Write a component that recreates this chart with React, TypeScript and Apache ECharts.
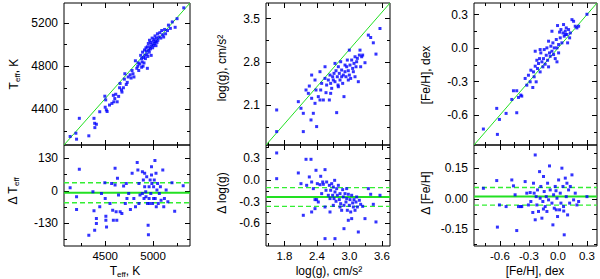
import React, { useEffect, useRef } from 'react';
import * as echarts from 'echarts';

const FONT = '"Liberation Sans", Arial, Helvetica, sans-serif';
const BLUE = '#0000ff';
const GREEN = '#22e022';

// ---------- data ----------
const teffTop: number[][] = [
  [4134,4149],[4194,4179],[4201,4124],[4230,4317],[4329,4155],[4383,4317],[4390,4271],[4392,4231],[4408,4262],[4443,4378],
  [4496,4522],[4505,4488],[4500,4420],[4512,4395],[4520,4380],[4545,4440],[4570,4455],[4585,4530],[4590,4470],[4600,4500],
  [4610,4540],[4625,4470],[4640,4520],[4650,4600],[4655,4640],[4670,4580],[4675,4560],[4690,4600],[4700,4680],[4705,4730],
  [4720,4630],[4730,4650],[4740,4700],[4760,4720],[4770,4690],[4780,4760],[4790,4730],[4800,4700],[4815,4850],[4830,4780],
  [4840,4800],[4850,4760],[4860,4820],[4870,4900],[4880,4870],[4885,4840],[4890,4930],[4895,4800],[4900,4880],[4905,4830],
  [4910,4950],[4915,4900],[4920,4870],[4925,4970],[4930,4940],[4935,4910],[4940,4980],[4945,4890],[4950,5010],[4955,4950],
  [4960,4930],[4962,5040],[4968,4980],[4972,4960],[4975,5020],[4980,4900],[4985,5000],[4990,5060],[4995,4970],[5000,5030],
  [5005,4990],[5010,5050],[5015,5010],[5020,5080],[5025,5030],[5030,4990],[5035,5060],[5040,5020],[5045,5100],[5050,5040],
  [5060,5070],[5070,5110],[5080,5060],[5090,5130],[5100,5090],[5110,5070],[5120,5140],[5130,5100],[5150,5130],[5160,5180],
  [5180,5150],[5200,5210],[5230,5160],[5250,5240],[5320,5340],[4940,4780],[4880,4790],[4845,4830]
];
const teffRes: number[][] = [
  [4134,12],[4201,-24],[4201,-75],[4230,86],[4329,-178],[4372,-4],[4383,-80],[4390,-158],[4408,-131],[4408,-111],
  [4443,-64],[4461,-11],[4496,32],[4500,-31],[4507,-102],[4507,-118],[4514,-145],[4550,-51],[4567,29],[4578,-78],
  [4585,-118],[4603,90],[4603,23],[4614,-84],[4621,-118],[4628,50],[4639,-17],[4656,-84],[4674,-91],[4692,19],
  [4710,-51],[4720,29],[4727,-31],[4745,-11],[4763,-75],[4781,70],[4799,-31],[4816,-64],[4834,113],[4841,83],
  [4852,29],[4852,-51],[4863,-17],[4888,76],[4898,43],[4905,-31],[4912,70],[4923,-4],[4933,56],[4941,-51],
  [4948,-138],[4951,-176],[4958,16],[4958,-31],[4969,43],[4976,-11],[4983,96],[4987,29],[4994,-51],[5005,16],
  [5012,43],[5019,121],[5022,-31],[5030,70],[5040,3],[5047,29],[5065,-11],[5083,-38],[5101,83],[5111,-64],
  [5118,-31],[5136,3],[5154,-44],[5197,32],[5225,-82],[5314,20],[4888,-11],[4912,16],[4926,-24],[4962,-51],
  [4983,63],[5005,-31],[5033,-64],[5054,-51],[5076,16]
];
const loggTop: number[][] = [
  [1.657,2.025],[1.657,1.676],[2.057,2.159],[2.106,2.052],[2.149,1.971],[2.149,1.676],[2.199,2.347],[2.242,2.293],[2.260,2.411],[2.291,1.864],
  [2.303,2.213],[2.303,2.588],[2.334,1.971],[2.365,2.132],[2.365,2.508],[2.383,2.347],[2.395,1.757],[2.426,2.240],[2.457,2.642],[2.470,2.347],
  [2.488,2.454],[2.519,2.186],[2.550,2.722],[2.550,2.534],[2.568,2.304],[2.580,2.427],[2.611,2.508],[2.630,2.186],[2.642,2.588],[2.654,2.454],
  [2.673,2.374],[2.691,2.561],[2.703,2.508],[2.716,2.615],[2.734,2.481],[2.734,2.776],[2.753,2.658],[2.765,1.982],[2.777,2.561],[2.790,2.427],
  [2.796,2.722],[2.814,2.615],[2.827,2.508],[2.839,2.803],[2.857,2.669],[2.876,2.454],[2.888,2.588],[2.900,2.240],[2.919,2.749],[2.919,2.642],
  [2.937,2.561],[2.950,2.722],[2.962,2.830],[2.980,2.658],[2.999,2.990],[2.999,2.588],[3.011,2.749],[3.024,2.534],[3.042,2.830],[3.060,2.695],
  [3.073,2.642],[3.085,2.776],[3.104,2.883],[3.104,2.561],[3.122,2.722],[3.134,2.803],[3.147,2.857],[3.165,2.481],[3.184,2.910],[3.196,2.990],
  [3.208,2.722],[3.227,2.883],[3.245,2.910],[3.288,2.787],[3.350,3.232],[3.393,3.194],[3.442,3.108],[3.491,2.926],[3.565,3.339],[2.457,2.186],
  [2.654,2.293],[2.796,2.400],[2.857,2.561],[2.980,2.508]
];
const loggRes: number[][] = [
  [1.657,0.374],[1.657,0.018],[2.057,0.097],[2.106,-0.051],[2.149,-0.489],[2.199,0.286],[2.211,-0.074],[2.260,0.042],[2.291,0.286],[2.303,-0.028],
  [2.303,-0.443],[2.334,-0.120],[2.365,-0.272],[2.365,-0.397],[2.383,0.134],[2.395,-0.272],[2.408,-0.051],[2.426,-0.305],[2.457,-0.065],[2.470,0.051],
  [2.488,-0.189],[2.507,-0.028],[2.519,-0.060],[2.550,0.143],[2.550,-0.374],[2.550,-0.812],[2.568,-0.143],[2.580,-0.028],[2.611,-0.212],[2.630,-0.074],
  [2.642,-0.443],[2.654,-0.143],[2.673,-0.051],[2.691,-0.212],[2.703,-0.097],[2.716,-0.258],[2.728,-0.005],[2.734,-0.166],[2.734,-0.812],[2.753,-0.295],
  [2.765,-0.120],[2.777,-0.212],[2.796,-0.074],[2.814,-0.272],[2.827,-0.189],[2.839,-0.328],[2.857,-0.420],[2.876,-0.134],[2.888,-0.235],[2.900,-0.351],
  [2.900,-0.674],[2.919,-0.189],[2.937,-0.305],[2.950,-0.258],[2.962,-0.420],[2.980,-0.198],[2.980,-0.558],[2.999,-0.351],[3.011,-0.272],[3.024,-0.443],
  [3.042,-0.212],[3.060,-0.318],[3.073,-0.374],[3.085,-0.272],[3.104,-0.420],[3.122,-0.305],[3.134,-0.235],[3.147,-0.374],[3.165,-0.720],[3.184,-0.281],
  [3.208,-0.337],[3.245,-0.365],[3.288,-0.535],[3.350,-0.120],[3.393,-0.198],[3.442,-0.337],[3.491,-0.581],[3.565,-0.212],[2.642,-0.258],[2.827,-0.374],
  [2.950,-0.120],[3.042,-0.535],[2.703,-0.351]
];
const fehTop: number[][] = [
  [-0.771,-0.725],[-0.633,-0.540],[-0.626,-0.773],[-0.605,-0.639],[-0.536,-0.585],[-0.477,-0.460],[-0.460,-0.382],[-0.426,-0.382],[-0.426,-0.579],[-0.408,-0.442],
  [-0.384,-0.421],[-0.374,-0.430],[-0.339,-0.272],[-0.322,-0.332],[-0.305,-0.243],[-0.287,-0.302],[-0.280,-0.198],[-0.260,-0.353],[-0.253,-0.213],[-0.246,-0.257],
  [-0.235,-0.028],[-0.235,-0.162],[-0.225,-0.302],[-0.218,-0.109],[-0.211,-0.183],[-0.201,-0.138],[-0.190,-0.094],[-0.184,-0.213],[-0.177,-0.043],[-0.166,-0.123],
  [-0.156,-0.168],[-0.149,-0.094],[-0.142,-0.013],[-0.132,-0.144],[-0.121,-0.064],[-0.114,0.002],[-0.107,-0.109],[-0.097,0.062],[-0.087,-0.043],[-0.080,-0.073],
  [-0.073,0.017],[-0.062,-0.028],[-0.052,0.047],[-0.045,-0.058],[-0.038,0.002],[-0.028,-0.094],[-0.017,0.077],[-0.010,0.002],[-0.010,-0.123],[-0.004,0.202],
  [0.007,0.032],[0.017,0.143],[0.024,0.092],[0.031,0.166],[0.041,0.047],[0.052,0.136],[0.058,0.211],[0.065,0.107],[0.076,0.151],[0.086,0.181],
  [0.093,0.122],[0.100,0.047],[0.110,0.166],[0.121,0.092],[0.128,0.136],[0.145,0.255],[0.162,0.240],[0.179,0.196],[0.196,0.181],[0.214,0.196],
  [0.300,0.303],[-0.062,0.151],[0.007,-0.043],[0.076,0.122],[-0.097,-0.168],[-0.184,-0.013]
];
const fehRes: number[][] = [
  [-0.771,0.052],[-0.633,0.090],[-0.626,-0.139],[-0.605,-0.030],[-0.536,-0.038],[-0.477,0.093],[-0.460,0.064],[-0.443,0.020],[-0.426,-0.156],[-0.408,-0.038],
  [-0.384,-0.038],[-0.374,-0.038],[-0.339,0.085],[-0.322,0.028],[-0.305,-0.030],[-0.287,0.031],[-0.280,-0.013],[-0.260,-0.067],[-0.253,0.077],[-0.246,0.028],
  [-0.235,0.216],[-0.235,-0.103],[-0.225,0.011],[-0.218,-0.030],[-0.211,0.044],[-0.201,-0.062],[-0.190,0.134],[-0.184,0.003],[-0.177,0.061],[-0.166,-0.095],
  [-0.156,-0.013],[-0.149,0.110],[-0.142,0.036],[-0.132,-0.038],[-0.121,0.011],[-0.114,-0.062],[-0.107,0.077],[-0.097,-0.005],[-0.087,0.162],[-0.080,0.044],
  [-0.062,-0.021],[-0.052,-0.128],[-0.045,0.020],[-0.038,-0.046],[-0.028,0.061],[-0.017,-0.054],[-0.010,0.003],[-0.004,-0.087],[0.007,0.093],[0.017,-0.054],
  [0.024,0.028],[0.031,-0.021],[0.041,0.151],[0.052,0.061],[0.058,-0.038],[0.065,-0.177],[0.076,0.102],[0.086,0.011],[0.093,0.077],[0.100,-0.079],
  [0.110,0.044],[0.121,-0.021],[0.128,0.061],[0.145,0.118],[0.162,-0.005],[0.179,0.028],[0.196,-0.030],[0.214,-0.013],[0.300,0.011],[-0.020,0.040],
  [0.060,-0.060],[-0.150,-0.050]
];

// residual mean and +/- sigma levels
const teffLevels = [-8, 32, -48];
const loggLevels = [-0.235, -0.106, -0.365];
const fehLevels = [0.011, 0.056, -0.031];

// axis ranges
const teffRange = [4070, 5385];
const teffResRange = [-221, 183];
const loggRange = [1.46, 3.75];
const loggResRange = [-0.914, 0.484];
const fehRange = [-0.868, 0.404];
const fehResRange = [-0.232, 0.265];

// tick labels and minor ticks
const teffLabels = [4500, 5000];
const teffMinor = [4250, 4750, 5250];
const teffYLabels = [4400, 4800, 5200];
const teffYMinor = [4200, 4600, 5000];
const teffResLabels = [-130, 0, 130];
const teffResMinor = [-195, -65, 65];
const loggXLabels = [1.8, 2.4, 3.0, 3.6];
const loggXMinor = [1.5, 2.1, 2.7, 3.3];
const loggYLabels = [2.1, 2.8, 3.5];
const loggYMinor = [1.75, 2.45, 3.15];
const loggResLabels = [-0.6, -0.3, 0.0, 0.3];
const loggResMinor = [-0.75, -0.45, -0.15, 0.15, 0.45];
const fehLabels = [-0.6, -0.3, 0.0, 0.3];
const fehMinor = [-0.75, -0.45, -0.15, 0.15];
const fehResLabels = [-0.15, 0.0, 0.15];
const fehResMinor = [-0.225, -0.075, 0.075, 0.225];

type Panel = {
  rect: number[];
  xr: number[]; yr: number[];
  xMaj: number[]; xMin: number[]; yMaj: number[]; yMin: number[];
  xFmt: (v: number) => string; yFmt: (v: number) => string;
  showX: boolean; data: number[][]; levels?: number[];
};

const f0 = (v: number) => String(Math.round(v));
const f1 = (v: number) => v.toFixed(1);
const f2 = (v: number) => v.toFixed(2);

const panels: Panel[] = [
  { rect: [64, 3, 126, 142], xr: teffRange, yr: teffRange, xMaj: teffLabels, xMin: teffMinor, yMaj: teffYLabels, yMin: teffYMinor, xFmt: f0, yFmt: f0, showX: false, data: teffTop },
  { rect: [64, 145, 126, 101], xr: teffRange, yr: teffResRange, xMaj: teffLabels, xMin: teffMinor, yMaj: teffResLabels, yMin: teffResMinor, xFmt: f0, yFmt: f0, showX: true, data: teffRes, levels: teffLevels },
  { rect: [266, 3, 124, 142], xr: loggRange, yr: loggRange, xMaj: loggXLabels, xMin: loggXMinor, yMaj: loggYLabels, yMin: loggYMinor, xFmt: f1, yFmt: f1, showX: false, data: loggTop },
  { rect: [266, 145, 124, 101], xr: loggRange, yr: loggResRange, xMaj: loggXLabels, xMin: loggXMinor, yMaj: loggResLabels, yMin: loggResMinor, xFmt: f1, yFmt: f1, showX: true, data: loggRes, levels: loggLevels },
  { rect: [474, 3, 123, 142], xr: fehRange, yr: fehRange, xMaj: fehLabels, xMin: fehMinor, yMaj: fehLabels, yMin: fehMinor, xFmt: f1, yFmt: f1, showX: false, data: fehTop },
  { rect: [474, 145, 123, 101], xr: fehRange, yr: fehResRange, xMaj: fehLabels, xMin: fehMinor, yMaj: fehResLabels, yMin: fehResMinor, xFmt: f1, yFmt: f2, showX: true, data: fehRes, levels: fehLevels },
];

function mkAxis(gridIndex: number, position: string, r: number[], ticks: number[], len: number, labels: number[] | null, fmt: (v: number) => string, isX: boolean) {
  return {
    type: 'value', gridIndex, position, min: r[0], max: r[1],
    axisLine: { show: false, onZero: false },
    splitLine: { show: false },
    minorTick: { show: false },
    axisTick: { show: true, inside: true, length: len, customValues: ticks, lineStyle: { color: '#000', width: 1 } },
    axisLabel: labels
      ? { show: true, customValues: labels, formatter: (v: number) => fmt(v), fontSize: isX ? 11.5 : 12, lineHeight: 12, color: '#000', fontFamily: FONT, margin: isX ? 4 : 6 }
      : { show: false },
  };
}

function buildOption() {
  const grid: any[] = [];
  const xAxis: any[] = [];
  const yAxis: any[] = [];
  const series: any[] = [];
  panels.forEach((p, i) => {
    const [l, t, w, h] = p.rect;
    grid.push({ left: l, top: t, width: w, height: h, show: true, borderColor: '#000', borderWidth: 1, backgroundColor: 'transparent' });
    grid.push({ left: l, top: t, width: w, height: h, show: false });
    const gMain = 2 * i, gMin = 2 * i + 1;
    xAxis.push(mkAxis(gMain, 'bottom', p.xr, p.xMaj, 5, p.showX ? p.xMaj : null, p.xFmt, true));
    xAxis.push(mkAxis(gMain, 'top', p.xr, p.xMaj, 5, null, p.xFmt, true));
    xAxis.push(mkAxis(gMin, 'bottom', p.xr, p.xMin, 3, null, p.xFmt, true));
    xAxis.push(mkAxis(gMin, 'top', p.xr, p.xMin, 3, null, p.xFmt, true));
    yAxis.push(mkAxis(gMain, 'left', p.yr, p.yMaj, 5, p.yMaj, p.yFmt, false));
    yAxis.push(mkAxis(gMain, 'right', p.yr, p.yMaj, 5, null, p.yFmt, false));
    yAxis.push(mkAxis(gMin, 'left', p.yr, p.yMin, 3, null, p.yFmt, false));
    yAxis.push(mkAxis(gMin, 'right', p.yr, p.yMin, 3, null, p.yFmt, false));
    const xi = 4 * i, yi = 4 * i;
    if (!p.levels) {
      series.push({
        type: 'line', xAxisIndex: xi, yAxisIndex: yi, symbol: 'none', silent: true, z: 3,
        data: [[p.xr[0], p.xr[0]], [p.xr[1], p.xr[1]]],
        lineStyle: { color: GREEN, width: 1 },
      });
    } else {
      p.levels.forEach((lv, k) => {
        series.push({
          type: 'line', xAxisIndex: xi, yAxisIndex: yi, symbol: 'none', silent: true, z: 3,
          data: [[p.xr[0], lv], [p.xr[1], lv]],
          lineStyle: k === 0 ? { color: GREEN, width: 2 } : { color: '#33ee33', width: 1.4, type: [5, 3] },
        });
      });
    }
    series.push({
      type: 'scatter', xAxisIndex: xi, yAxisIndex: yi, symbol: 'rect', symbolSize: 3, z: 4,
      data: p.data, itemStyle: { color: BLUE },
    });
  });

  const rich = {
    a: { fontSize: 12, fontFamily: FONT, fill: '#000', lineHeight: 12, verticalAlign: 'middle' },
    s: { fontSize: 8, fontFamily: FONT, fill: '#000', lineHeight: 15, verticalAlign: 'bottom' },
  };
  const titles = [
    { x: 14, y: 74, r: true, text: '{a|T}{s|eff}{a|, K}' },
    { x: 13, y: 191, r: true, text: '{a|Δ T}{s|eff}' },
    { x: 222, y: 68, r: true, text: '{a|log(g), cm/s²}' },
    { x: 222, y: 193, r: true, text: '{a|Δ log(g)}' },
    { x: 426, y: 75, r: true, text: '{a|[Fe/H], dex}' },
    { x: 426, y: 193, r: true, text: '{a|Δ [Fe/H]}' },
    { x: 125, y: 271, r: false, text: '{a|T}{s|eff}{a|, K}' },
    { x: 329, y: 271, r: false, text: '{a|log(g), cm/s²}' },
    { x: 535, y: 271, r: false, text: '{a|[Fe/H], dex}' },
  ];
  const graphic = titles.map((t) => ({
    type: 'text', x: t.x, y: t.y, rotation: t.r ? Math.PI / 2 : 0,
    style: { text: t.text, rich, align: 'center', verticalAlign: 'middle', fill: '#000', font: `12px ${FONT}` },
  }));

  return { animation: false, backgroundColor: '#fff', grid, xAxis, yAxis, series, graphic };
}

export default function App() {
  const ref = useRef<HTMLDivElement>(null);
  useEffect(() => {
    document.body.style.margin = '0';
    if (!ref.current) return;
    const chart = echarts.init(ref.current, undefined, { renderer: 'svg' });
    chart.setOption(buildOption() as any);
    return () => chart.dispose();
  }, []);
  return <div ref={ref} style={{ width: 600, height: 279 }} />;
}
